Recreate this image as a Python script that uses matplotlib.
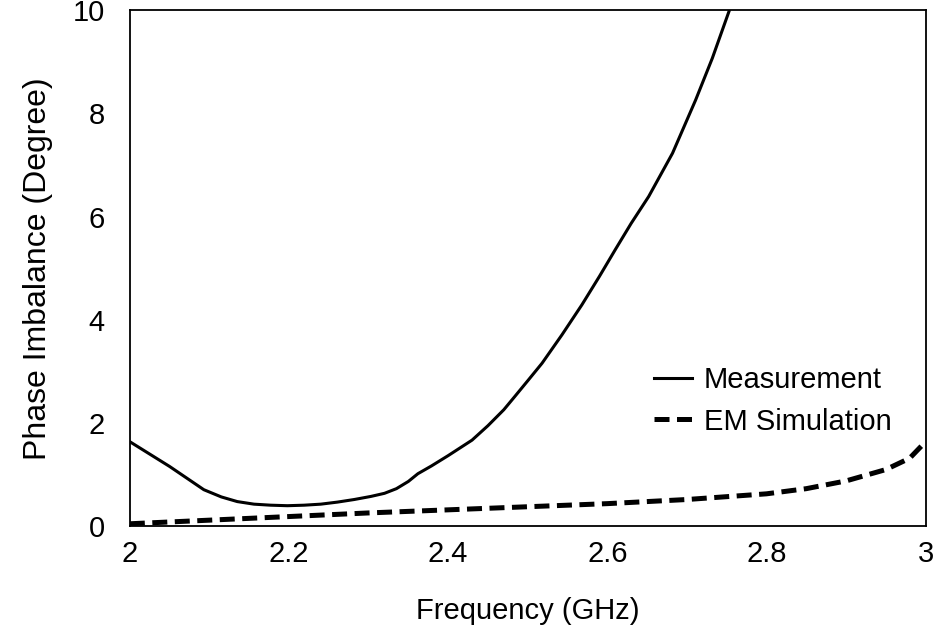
import matplotlib
matplotlib.use("Agg")
import matplotlib.pyplot as plt

plt.rcParams["font.family"] = ["Liberation Sans", "DejaVu Sans"]

meas_f = [2.000, 2.025, 2.050, 2.072, 2.093, 2.115, 2.135, 2.156, 2.177,
          2.198, 2.219, 2.240, 2.261, 2.282, 2.303, 2.320, 2.335, 2.350,
          2.362, 2.379, 2.400, 2.430, 2.450, 2.470, 2.484, 2.500, 2.518,
          2.543, 2.568, 2.590, 2.610, 2.630, 2.652, 2.682, 2.711, 2.732,
          2.753]
meas_deg = [1.64, 1.40, 1.16, 0.93, 0.71, 0.57, 0.48, 0.43, 0.41,
            0.40, 0.41, 0.43, 0.47, 0.52, 0.58, 0.64, 0.73, 0.87,
            1.02, 1.17, 1.37, 1.67, 1.95, 2.26, 2.52, 2.82, 3.16,
            3.71, 4.29, 4.84, 5.36, 5.87, 6.39, 7.23, 8.26, 9.07,
            9.98]

# EM simulation
sim_f = [2.00, 2.10, 2.20, 2.30, 2.40, 2.50, 2.60, 2.70, 2.80, 2.85,
         2.90, 2.95, 2.98, 3.00]
sim_deg = [0.05, 0.12, 0.19, 0.26, 0.32, 0.38, 0.44, 0.52, 0.63, 0.73,
           0.88, 1.10, 1.32, 1.64]

fig = plt.figure(figsize=(9.34, 6.38), dpi=100)
ax = fig.add_axes([0.139, 0.175, 0.852, 0.809])

ax.plot(meas_f, meas_deg, "k-", lw=2.2, label="Measurement")
ax.plot(sim_f, sim_deg, "k--", lw=3.6, dashes=(3.0, 1.5), label="EM Simulation")

ax.set_xlim(2, 3)
ax.set_ylim(0, 10)
ax.set_xticks([2, 2.2, 2.4, 2.6, 2.8, 3])
ax.set_xticklabels(["2", "2.2", "2.4", "2.6", "2.8", "3"])
ax.set_yticks([0, 2, 4, 6, 8, 10])
ax.tick_params(length=0, labelsize=21)
ax.tick_params(axis="x", pad=10)
ax.tick_params(axis="y", pad=18)
for s in ax.spines.values():
    s.set_linewidth(1.3)

ax.set_xlabel("Frequency (GHz)", fontsize=21, labelpad=21)
ax.set_ylabel("Phase Imbalance (Degree)", fontsize=23, labelpad=14)

ax.legend(loc="lower right", bbox_to_anchor=(0.99, 0.125), frameon=False,
          fontsize=21, handlelength=1.3, handletextpad=0.4, labelspacing=0.45)

fig.savefig("out.png", dpi=100)
